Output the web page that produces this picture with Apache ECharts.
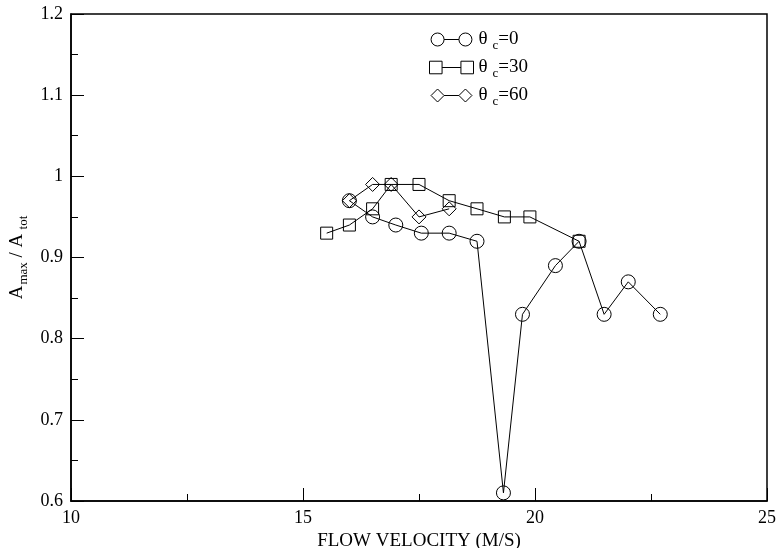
<!DOCTYPE html>
<html>
<head>
<meta charset="utf-8">
<script src="https://cdn.jsdelivr.net/npm/echarts@6/dist/echarts.min.js"></script>
<style>
  html, body { margin: 0; padding: 0; background: #fff; }
  #chart { width: 779px; height: 548px; }
</style>
</head>
<body>
<div id="chart"></div>
<script>
// Flow velocity (m/s) and normalized amplitude for each contact angle
const velTheta0 = [16.0, 16.5, 17.0, 17.55, 18.15, 18.75, 19.32, 19.73, 20.44, 20.95, 21.49, 22.01, 22.70];
const ampTheta0 = [0.97, 0.95, 0.94, 0.93, 0.93, 0.92, 0.61, 0.83, 0.89, 0.92, 0.83, 0.87, 0.83];

const velTheta30 = [15.51, 16.0, 16.5, 16.9, 17.5, 18.15, 18.75, 19.34, 19.89, 20.95];
const ampTheta30 = [0.93, 0.94, 0.96, 0.99, 0.99, 0.97, 0.96, 0.95, 0.95, 0.92];

const velTheta60 = [16.0, 16.5, 16.9, 17.5, 18.15];
const ampTheta60 = [0.97, 0.99, 0.99, 0.95, 0.96];

const seriesNames = ['θc=0', 'θc=30', 'θc=60'];
const legendSuffix = ['=0', '=30', '=60'];

const xTicks = { min: 10, max: 25, interval: 5 };
const yTicks = { min: 0.6, max: 1.2, interval: 0.1 };

const FONT = '"Liberation Serif", "DejaVu Serif", serif';

// Legend glyphs: two open symbols joined by a short line
const iconCircle = 'path://M0,7 A7,7 0 1 1 14,7 A7,7 0 1 1 0,7 Z M14,7 L30,7 M30,7 A7,7 0 1 1 44,7 A7,7 0 1 1 30,7 Z';
const iconSquare = 'path://M1,1 L13,1 L13,13 L1,13 Z M13,7 L31,7 M31,1 L43,1 L43,13 L31,13 Z';
const iconDiamond = 'path://M0,7 L7,0 L14,7 L7,14 Z M14,7 L30,7 M30,7 L37,0 L44,7 L37,14 Z';

function pairs(xs, ys) { return xs.map((x, i) => [x, ys[i]]); }

function makeSeries(name, xs, ys, symbol, size) {
  return {
    name: name,
    type: 'line',
    data: pairs(xs, ys),
    symbol: symbol,
    symbolSize: size,
    showAllSymbol: true,
    lineStyle: { color: '#000', width: 1 },
    itemStyle: { color: 'rgba(0,0,0,0)', borderColor: '#000', borderWidth: 1 },
    emphasis: { disabled: true },
    animation: false,
    z: 3
  };
}

const chart = echarts.init(document.getElementById('chart'), null, { renderer: 'canvas' });

chart.setOption({
  backgroundColor: '#fff',
  animation: false,
  textStyle: { fontFamily: FONT, color: '#000' },
  grid: {
    left: 71, right: 12, top: 14, bottom: 47,
    containLabel: false,
    outerBoundsMode: 'none',
    show: true, borderColor: '#000', borderWidth: 1.5, backgroundColor: 'transparent'
  },
  legend: {
    left: 424, top: 25,
    orient: 'vertical',
    itemGap: 6,
    itemWidth: 44, itemHeight: 13,
    selectedMode: false,
    itemStyle: { color: 'rgba(0,0,0,0)', borderColor: '#000', borderWidth: 1 },
    data: [
      { name: seriesNames[0], icon: iconCircle },
      { name: seriesNames[1], icon: iconSquare },
      { name: seriesNames[2], icon: iconDiamond }
    ],
    formatter: function (name) {
      const i = seriesNames.indexOf(name);
      return '{t|θ}{s|c}{t|' + legendSuffix[i] + '}';
    },
    textStyle: {
      fontFamily: FONT,
      rich: {
        t: { fontFamily: FONT, fontSize: 19, color: '#000' },
        s: { fontFamily: FONT, fontSize: 13, color: '#000', padding: [12, 0, 0, 5] }
      }
    }
  },
  xAxis: {
    type: 'value',
    min: xTicks.min, max: xTicks.max, interval: xTicks.interval,
    name: 'FLOW VELOCITY (M/S)',
    nameLocation: 'middle',
    nameGap: 21,
    nameTextStyle: { fontFamily: FONT, fontSize: 19, color: '#000' },
    axisLine: { show: true, onZero: false, lineStyle: { color: '#000', width: 1.5 } },
    axisTick: { show: true, inside: true, length: 13, lineStyle: { color: '#000', width: 1 } },
    minorTick: { show: true, splitNumber: 2, length: 7, lineStyle: { color: '#000', width: 1 } },
    axisLabel: { fontFamily: FONT, fontSize: 18, color: '#000', margin: 8 },
    splitLine: { show: false }
  },
  yAxis: {
    type: 'value',
    min: yTicks.min, max: yTicks.max, interval: yTicks.interval,
    name: '{t|A}{s|max}{t| / A}{s| tot}',
    nameLocation: 'middle',
    nameGap: 31,
    nameTextStyle: {
      fontFamily: FONT, color: '#000',
      rich: {
        t: { fontFamily: FONT, fontSize: 19, color: '#000' },
        s: { fontFamily: FONT, fontSize: 13, color: '#000', padding: [12, 0, 0, 1] }
      }
    },
    axisLine: { show: true, onZero: false, lineStyle: { color: '#000', width: 1.5 } },
    axisTick: { show: true, inside: true, length: 13, lineStyle: { color: '#000', width: 1 } },
    minorTick: { show: true, splitNumber: 2, length: 7, lineStyle: { color: '#000', width: 1 } },
    axisLabel: {
      fontFamily: FONT, fontSize: 18, color: '#000', margin: 8,
      formatter: function (v) { return String(Math.round(v * 10) / 10); }
    },
    splitLine: { show: false }
  },
  series: [
    makeSeries(seriesNames[0], velTheta0, ampTheta0, 'circle', 14),
    makeSeries(seriesNames[1], velTheta30, ampTheta30, 'rect', 12),
    makeSeries(seriesNames[2], velTheta60, ampTheta60, 'diamond', 14)
  ]
});
</script>
</body>
</html>
